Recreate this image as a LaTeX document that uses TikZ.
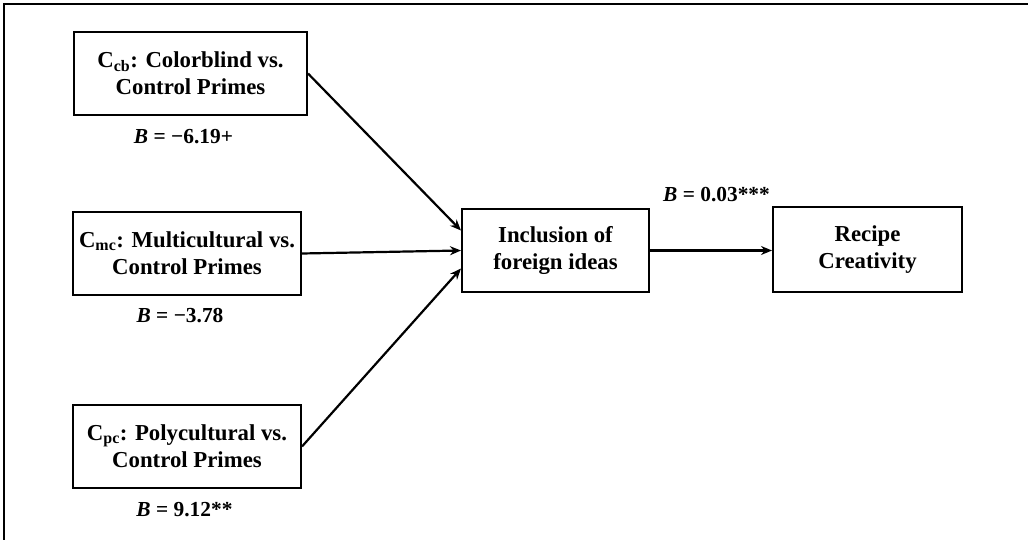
\documentclass[tikz,border=0pt]{standalone}
\usepackage{fontspec}
\setmainfont{Liberation Serif}
\usetikzlibrary{arrows.meta}

\begin{document}
\begin{tikzpicture}[x=1pt,y=-1pt,
    box/.style={draw,line width=2pt,align=center,font=\fontsize{22.8}{27}\selectfont\bfseries,
                minimum height=83pt,inner sep=0pt},
    coef/.style={font=\fontsize{21.4}{24}\selectfont\bfseries,inner sep=0pt},
    link/.style={line width=2.2pt,-{Stealth[length=11pt,width=9pt]}}]
    \useasboundingbox (0,0) rectangle (1028,540);
    \draw[line width=1.5pt] (4,540) -- (4,4) -- (1028,4);
    % predictors
    \node[box,minimum width=233pt] (cb) at (190.5,73.5)
        {C\textsubscript{cb}: Colorblind vs.\\Control Primes};
    \node[box,minimum width=228pt] (mc) at (187,253.5)
        {C\textsubscript{mc}: Multicultural vs.\\Control Primes};
    \node[box,minimum width=228pt] (pc) at (187,446.5)
        {C\textsubscript{pc}: Polycultural vs.\\Control Primes};
    \node[coef] (bcb) at (183.5,137) {\textit{B} = −6.19+};
    \node[coef] (bmc) at (180,316) {\textit{B} = −3.78};
    \node[coef] (bpc) at (184.5,510) {\textit{B} = 9.12**};
    % mediator and outcome
    \node[box,minimum width=187pt] (foreign) at (555.5,250.5)
        {Inclusion of\\foreign ideas};
    \node[box,minimum width=189pt,minimum height=85pt] (recipe) at (867.5,249.5)
        {Recipe\\Creativity};
    \node[coef] (bfr) at (716.5,195) {\textit{B} = 0.03***};
    \draw[link] (cb.east) -- ([yshift=20pt]foreign.west);
    \draw[link] (mc.east) -- (foreign.west);
    \draw[link] (pc.east) -- ([yshift=-18pt]foreign.west);
    \draw[link] (foreign.east) -- (foreign.east -| recipe.west);
\end{tikzpicture}
\end{document}
